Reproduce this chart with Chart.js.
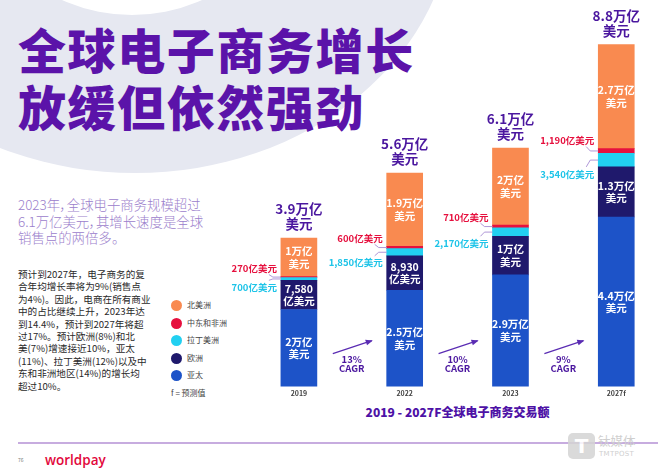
<!DOCTYPE html>
<html><head><meta charset="utf-8">
<script src="https://cdn.jsdelivr.net/npm/chart.js@4.4.1/dist/chart.umd.min.js"></script>
<style>
html,body{margin:0;padding:0;width:660px;height:471px;overflow:hidden;background:#fff;font-family:"Noto Sans CJK SC","Noto Sans",sans-serif;}
#wrap{position:relative;width:660px;height:471px;overflow:hidden;}
.abs{position:absolute;}
#bgEllipse{left:-183px;top:-357px;width:636px;height:530px;border-radius:50%;background:#e6e8f1;}
#bgCircle{left:-39px;top:-327px;width:342px;height:342px;border-radius:50%;background:#fff;}
#title{left:18px;top:20px;font-size:48px;line-height:57px;font-weight:900;color:#5b13a9;letter-spacing:1.6px;white-space:nowrap;}
#sub{left:18px;top:196px;font-size:13.4px;line-height:16.5px;font-weight:300;color:#9b80cc;white-space:nowrap;font-feature-settings:"palt";}
#body{left:18px;top:268px;font-size:9.6px;line-height:12.4px;color:#2a2a2a;white-space:nowrap;}
#legend{left:170px;top:300px;}
.li{position:absolute;left:0;height:12px;font-size:8px;color:#444;white-space:nowrap;}
.dot{position:absolute;left:1px;top:0;width:11px;height:11px;border-radius:50%;}
.lt{position:absolute;left:17px;top:-1px;line-height:12px;}
#chartTitle{left:300px;top:403px;width:315px;text-align:center;font-size:12px;font-weight:900;color:#4e12a6;white-space:nowrap;}
#rule{left:18px;top:442px;width:640px;height:1.5px;background:#c7acdf;}
#worldpay{left:45px;top:451px;font-family:"Open Sans",sans-serif;font-weight:600;font-size:13.5px;line-height:18px;color:#e2083c;}
#pg{left:18px;top:456px;font-size:5px;color:#777;}
#wmBox{left:568px;top:433px;width:27px;height:26px;border-radius:5px;background:#d4d4d4;opacity:.85;color:#fff;font:bold 20px/26px "DejaVu Sans",sans-serif;text-align:center;}
#wm1{left:598px;top:433px;font-size:12.5px;line-height:16px;color:#cfcfcf;}
#wm2{left:599px;top:450px;font-family:"DejaVu Sans",sans-serif;font-size:7px;line-height:9px;color:#cfcfcf;letter-spacing:0.3px;}
#c{position:absolute;left:0;top:0;}
</style></head>
<body><div id="wrap">
<div id="bgEllipse" class="abs"></div>
<div id="bgCircle" class="abs"></div>
<div id="title" class="abs">全球电子商务增长<br>放缓但依然强劲</div>
<div id="sub" class="abs">2023年，全球电子商务规模超过<br>6.1万亿美元，其增长速度是全球<br>销售点的两倍多。</div>
<div id="body" class="abs">预计到2027年，电子商务的复<br>合年均增长率将为9%(销售点<br>为4%)。因此，电商在所有商业<br>中的占比继续上升，2023年达<br>到14.4%，预计到2027年将超<br>过17%。预计欧洲(8%)和北<br>美(7%)增速接近10%，亚太<br>(11%)、拉丁美洲(12%)以及中<br>东和非洲地区(14%)的增长均<br>超过10%。</div>
<div id="legend" class="abs"></div>
<div id="chartTitle" class="abs">2019 - 2027F全球电子商务交易额</div>
<div id="rule" class="abs"></div>
<div id="pg" class="abs">76</div>
<div id="worldpay" class="abs">worldpay</div>
<div id="wmBox" class="abs">T</div>
<div id="wm1" class="abs">钛媒体</div>
<div id="wm2" class="abs">TMTPOST</div>
<canvas id="c" width="660" height="471"></canvas>
</div>
<script>
// ---- data (万亿美元) ----
const categories = ['2019', '2022', '2023', '2027f'];
const asiaPacific = [2.0, 2.5, 2.9, 4.4];
const europe = [0.758, 0.893, 1.0, 1.3];
const latinAmerica = [0.070, 0.185, 0.217, 0.354];
const middleEastAfrica = [0.027, 0.060, 0.071, 0.119];
const northAmerica = [1.0, 1.9, 2.0, 2.7];
const seriesNames = ['亚太', '欧洲', '拉丁美洲', '中东和非洲', '北美洲'];
const totalLabels = ['3.9万亿', '5.6万亿', '6.1万亿', '8.8万亿'];
const asiaLabels = [['2万亿', '美元'], ['2.5万亿', '美元'], ['2.9万亿', '美元'], ['4.4万亿', '美元']];
const europeLabels = [['7,580', '亿美元'], ['8,930', '亿美元'], ['1万亿', '美元'], ['1.3万亿', '美元']];
const northAmericaLabels = [['1万亿', '美元'], ['1.9万亿', '美元'], ['2万亿', '美元'], ['2.7万亿', '美元']];
const meaLabels = ['270亿美元', '600亿美元', '710亿美元', '1,190亿美元'];
const latamLabels = ['700亿美元', '1,850亿美元', '2,170亿美元', '3,540亿美元'];
const cagrLabels = ['13%', '10%', '9%'];

const COLORS = {asia:'#1d53c8', eu:'#1f196c', latam:'#22d0f1', mea:'#e6103e', na:'#f98a50'};
const PURPLE = '#4b179f';

function pts(arr){ return arr.map((v,i)=>({x:i, y:v})); }

// legend (top to bottom)
const legendItems = [
  [seriesNames[4], COLORS.na], [seriesNames[3], COLORS.mea], [seriesNames[2], COLORS.latam],
  [seriesNames[1], COLORS.eu], [seriesNames[0], COLORS.asia]
];
const lg = document.getElementById('legend');
legendItems.forEach((it,k)=>{
  const d = document.createElement('div'); d.className='li'; d.style.top=(k*17.6)+'px';
  d.innerHTML = '<span class="dot" style="background:'+it[1]+'"></span><span class="lt">'+it[0]+'</span>';
  lg.appendChild(d);
});
const f = document.createElement('div'); f.className='li'; f.style.top=(5*17.6)+'px';
f.innerHTML = '<span class="lt" style="left:1px">f = 预测值</span>'; lg.appendChild(f);

const FONT = '"Noto Sans CJK SC","Noto Sans",sans-serif';

const annot = {
  id:'annot',
  afterDatasetsDraw(chart){
    const ctx = chart.ctx, xs = chart.scales.x, ys = chart.scales.y;
    const meta = k => chart.getDatasetMeta(k).data;
    ctx.save();
    ctx.textBaseline = 'middle';
    function two(lines, x, y, gap){ ctx.fillText(lines[0], x, y-gap/2); ctx.fillText(lines[1], x, y+gap/2); }
    categories.forEach((c,i)=>{
      const a = meta(0)[i], e = meta(1)[i], l = meta(2)[i], r = meta(3)[i], n = meta(4)[i];
      const left = a.x - a.width/2;
      // inner labels
      ctx.textAlign = 'center';
      ctx.fillStyle = '#ffffff';
      ctx.font = 'bold 10.5px ' + FONT;
      two(asiaLabels[i], a.x, (a.y+a.base)/2, 12.5);
      two(europeLabels[i], e.x, (e.y+e.base)/2, 12.5);
      two(northAmericaLabels[i], n.x, (n.y+n.base)/2, 12.5);
      // totals
      ctx.fillStyle = PURPLE;
      ctx.font = 'bold 13.5px ' + FONT;
      ctx.fillText(totalLabels[i], n.x, n.y - 29);
      ctx.fillText('美元', n.x, n.y - 14);
      // side labels
      ctx.textAlign = 'right';
      ctx.font = 'bold 9.5px ' + FONT;
      const redY = r.y - 8, cyY = l.base + 7;
      ctx.fillStyle = COLORS.mea; ctx.fillText(meaLabels[i], left - 4, redY);
      ctx.fillStyle = '#1ec4e8'; ctx.fillText(latamLabels[i], left - 4, cyY);
      // leader lines
      ctx.strokeStyle = '#a68bd3'; ctx.lineWidth = 0.9;
      const rm = (r.y + r.base)/2, lm = (l.y + l.base)/2;
      ctx.beginPath(); ctx.moveTo(left-12, redY+6); ctx.lineTo(left-8, rm); ctx.lineTo(left, rm); ctx.stroke();
      ctx.beginPath(); ctx.moveTo(left-12, cyY-7); ctx.lineTo(left-8, lm); ctx.lineTo(left, lm); ctx.stroke();
    });
    // CAGR arrows
    const base = ys.getPixelForValue(0);
    cagrLabels.forEach((t,i)=>{
      const mx = xs.getPixelForValue(i + 0.5);
      const x1 = mx-19, y1 = base-33, x2 = mx+20, y2 = base-46;
      ctx.strokeStyle = '#5a2cb3'; ctx.fillStyle = '#5a2cb3'; ctx.lineWidth = 1.2;
      ctx.beginPath(); ctx.moveTo(x1,y1); ctx.lineTo(x2,y2); ctx.stroke();
      const ang = Math.atan2(y2-y1, x2-x1);
      ctx.beginPath(); ctx.moveTo(x2+1, y2);
      ctx.lineTo(x2 - 6*Math.cos(ang) + 3*Math.sin(ang), y2 - 6*Math.sin(ang) - 3*Math.cos(ang));
      ctx.lineTo(x2 - 6*Math.cos(ang) - 3*Math.sin(ang), y2 - 6*Math.sin(ang) + 3*Math.cos(ang));
      ctx.closePath(); ctx.fill();
      ctx.textAlign = 'center'; ctx.fillStyle = PURPLE;
      ctx.font = 'bold 9.5px ' + FONT;
      ctx.fillText(t, mx, base - 27);
      ctx.fillText('CAGR', mx, base - 18);
    });
    ctx.restore();
  }
};

new Chart(document.getElementById('c'), {
  type: 'bar',
  data: {
    datasets: [
      {label: seriesNames[0], data: pts(asiaPacific), backgroundColor: COLORS.asia},
      {label: seriesNames[1], data: pts(europe), backgroundColor: COLORS.eu},
      {label: seriesNames[2], data: pts(latinAmerica), backgroundColor: COLORS.latam},
      {label: seriesNames[3], data: pts(middleEastAfrica), backgroundColor: COLORS.mea},
      {label: seriesNames[4], data: pts(northAmerica), backgroundColor: COLORS.na}
    ]
  },
  options: {
    responsive: false, animation: false, devicePixelRatio: 1,
    layout: {padding: {left: 246, right: 12, top: 32, bottom: 70}},
    datasets: {bar: {barThickness: 36, borderWidth: 0}},
    scales: {
      x: {type: 'linear', stacked: true, min: -0.5, max: 3.3, offset: false,
          grid: {display: false, drawTicks: false, offset: false}, border: {display: false},
          ticks: {stepSize: 1, autoSkip: false, maxRotation: 0, padding: 3,
                  color: '#444', font: {size: 7, weight: 'bold', family: FONT},
                  callback: v => Number.isInteger(v) ? categories[v] : null}},
      y: {stacked: true, min: 0, max: 9.2, display: false}
    },
    plugins: {legend: {display: false}, tooltip: {enabled: false}}
  },
  plugins: [annot]
});
</script>
</body></html>
